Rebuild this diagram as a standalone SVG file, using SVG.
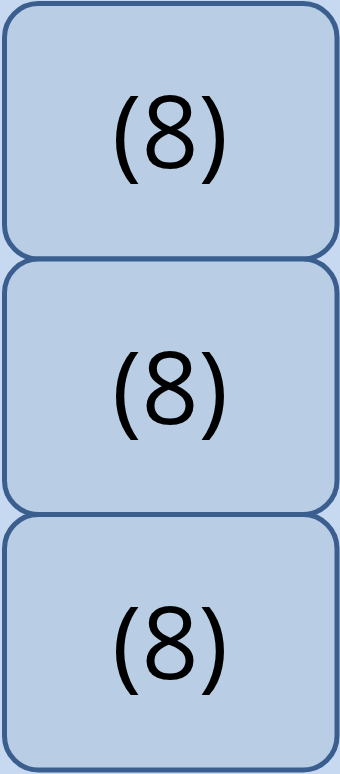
<svg xmlns="http://www.w3.org/2000/svg" width="340" height="774" viewBox="0 0 340 774">
<style>
.box{fill:#b9cde5;stroke:#3a5f8f;stroke-width:5}
.lbl{font-family:"Open Sans","Liberation Sans",sans-serif;font-size:100px;fill:#000;text-anchor:middle}
</style>
<rect x="0" y="0" width="340" height="774" fill="#c6d9f0"/>
<g id="node1"><rect class="box" x="4.5" y="3.5" width="332.5" height="255.5" rx="34" ry="34"/><text class="lbl" x="170" y="168">(8)</text></g>
<g id="node2"><rect class="box" x="4.5" y="259" width="332.5" height="255.5" rx="34" ry="34"/><text class="lbl" x="170" y="424">(8)</text></g>
<g id="node3"><rect class="box" x="4.5" y="514.5" width="332.5" height="255.5" rx="34" ry="34"/><text class="lbl" x="170" y="679">(8)</text></g>
<g id="connectors"/>
</svg>
